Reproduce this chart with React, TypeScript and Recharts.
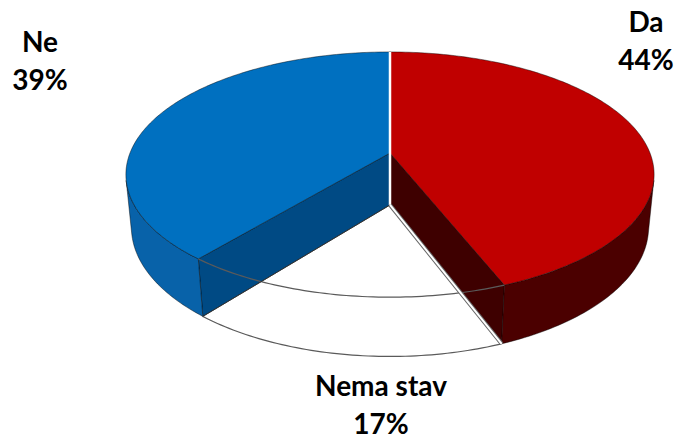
import React from 'react';
import { PieChart, Pie } from 'recharts';

// ---- data ----
const categories = ['Da', 'Nema stav', 'Ne'];
const values = [44, 17, 39];

const data = categories.map((name, i) => ({ name, value: values[i] }));

// ---- styles (per category) ----
const STYLES: Record<string, { top: string | null; wall: string; cut: string }> = {
  Da: { top: '#C00000', wall: '#4B0000', cut: '#3E0000' },
  'Nema stav': { top: null, wall: 'none', cut: 'none' },
  Ne: { top: '#0070C0', wall: '#0862A9', cut: '#004A84' },
};

// label anchors (layout)
const LABEL_POS = [
  { x: 646, y: 32 },
  { x: 381, y: 396 },
  { x: 40, y: 52 },
];

// ---- 3D projection ----
const PHI = (27.2 * Math.PI) / 180;
const CAM = 5.06;
const THICK = 0.2295;
const SN = Math.sin(PHI);
const CS = Math.cos(PHI);
const VIS = (Math.asin(1 / (CAM * CS)) * 180) / Math.PI;

type Pt = [number, number];

function proj(cx: number, cy: number, r: number, deg: number, rad: number, y: number): Pt {
  const t = (deg * Math.PI) / 180;
  const X = rad * Math.cos(t);
  const Z = rad * Math.sin(t);
  const depth = CAM + Z * CS - y * SN;
  const up = Z * SN + y * CS;
  const F = r * CAM;
  return [cx + (F * X) / depth, cy - (F * up) / depth];
}

function arc(cx: number, cy: number, r: number, a1: number, a2: number, y: number): Pt[] {
  const n = Math.max(2, Math.ceil(Math.abs(a2 - a1) / 1));
  const pts: Pt[] = [];
  for (let i = 0; i <= n; i++) {
    const a = a1 + ((a2 - a1) * i) / n;
    pts.push(proj(cx, cy, r, a, 1, y));
  }
  return pts;
}

const toPath = (pts: Pt[], close = true) =>
  pts.map((p, i) => `${i ? 'L' : 'M'}${p[0].toFixed(2)},${p[1].toFixed(2)}`).join(' ') + (close ? ' Z' : '');

const EDGE = 'rgba(0,0,0,0.55)';

function SolidSlice(props: any) {
  const { cx, cy, outerRadius: r, startAngle, endAngle, payload } = props;
  const name = payload?.name ?? props.name;
  const st = STYLES[name];
  if (!st || !st.top) return <g />;
  const lo = Math.min(startAngle, endAngle);
  const hi = Math.max(startAngle, endAngle);
  const apexT = proj(cx, cy, r, 0, 0, 0);
  const apexB = proj(cx, cy, r, 0, 0, -THICK);
  const faces = [lo, hi].map((a) => [apexT, proj(cx, cy, r, a, 1, 0), proj(cx, cy, r, a, 1, -THICK), apexB] as Pt[]);
  const walls: Pt[][] = [];
  for (let k = -2; k <= 1; k++) {
    const w1 = Math.max(lo, -180 + VIS + 360 * k);
    const w2 = Math.min(hi, -VIS + 360 * k);
    if (w2 > w1) {
      walls.push([...arc(cx, cy, r, w1, w2, 0), ...arc(cx, cy, r, w2, w1, -THICK)]);
    }
  }
  const topPts = [apexT, ...arc(cx, cy, r, lo, hi, 0)];
  return (
    <g>
      {faces.map((f, i) => (
        <path key={'f' + i} d={toPath(f)} fill={st.cut} stroke={EDGE} strokeWidth={0.8} strokeLinejoin="round" />
      ))}
      {walls.map((w, i) => (
        <path key={'w' + i} d={toPath(w)} fill={st.wall} stroke={EDGE} strokeWidth={0.8} strokeLinejoin="round" />
      ))}
      <path d={toPath(topPts)} fill={st.top} stroke={EDGE} strokeWidth={0.8} strokeLinejoin="round" />
    </g>
  );
}

function OutlineSlice(props: any) {
  const { cx, cy, outerRadius: r, startAngle, endAngle, payload, index } = props;
  const name = payload?.name ?? props.name;
  const st = STYLES[name];
  const apexT = proj(cx, cy, r, 0, 0, 0);
  const apexB = proj(cx, cy, r, 0, 0, -THICK);
  const lo = Math.min(startAngle, endAngle);
  const hi = Math.max(startAngle, endAngle);
  if (st && !st.top) {
    const topArc = arc(cx, cy, r, lo, hi, 0);
    const botArc = arc(cx, cy, r, lo, hi, -THICK);
    const bHi = proj(cx, cy, r, hi, 1, -THICK);
    const bLo = proj(cx, cy, r, lo, 1, -THICK);
    return (
      <g fill="none">
        <path d={toPath(topArc, false)} stroke="#5a5a5a" strokeWidth={1.2} />
        <path d={toPath(botArc, false)} stroke="#5a5a5a" strokeWidth={1.2} />
        <path d={toPath([apexB, bLo], false)} stroke="#333" strokeWidth={1} />
        <path d={toPath([apexB, bHi], false)} stroke="#666" strokeWidth={4} />
        <path d={toPath([apexB, bHi], false)} stroke="#fff" strokeWidth={2} />
      </g>
    );
  }
  if (index === 0) {
    const pStart = proj(cx, cy, r, startAngle, 1, 0);
    return (
      <g fill="none">
        <path d={toPath([pStart, apexT, apexB], false)} stroke="#fff" strokeWidth={2.5} />
      </g>
    );
  }
  return <g />;
}

const renderLabel = (p: any) => {
  const pos = LABEL_POS[p.index];
  const pct = `${Math.round(p.percent * 100)}%`;
  return (
    <text
      key={'lab' + p.index}
      x={pos.x}
      y={pos.y}
      textAnchor="middle"
      fontFamily="Lato, 'Open Sans', sans-serif"
      fontWeight={700}
      fontSize={28}
      fill="#000"
    >
      <tspan x={pos.x} dy={0}>{p.name}</tspan>
      <tspan x={pos.x} dy={38}>{pct}</tspan>
    </text>
  );
};

export default function App() {
  return (
    <div style={{ position: 'absolute', left: 0, top: 0, background: '#fff' }}>
      <PieChart width={675} height={442}>
        <Pie
          data={data}
          dataKey="value"
          nameKey="name"
          cx={385}
          cy={148}
          outerRadius={260}
          startAngle={90}
          endAngle={-270}
          isAnimationActive={false}
          stroke="none"
          shape={SolidSlice}
          label={false}
          labelLine={false}
        />
        <Pie
          data={data}
          dataKey="value"
          nameKey="name"
          cx={385}
          cy={148}
          outerRadius={260}
          startAngle={90}
          endAngle={-270}
          isAnimationActive={false}
          stroke="none"
          shape={OutlineSlice}
          label={renderLabel}
          labelLine={false}
        />
      </PieChart>
    </div>
  );
}
